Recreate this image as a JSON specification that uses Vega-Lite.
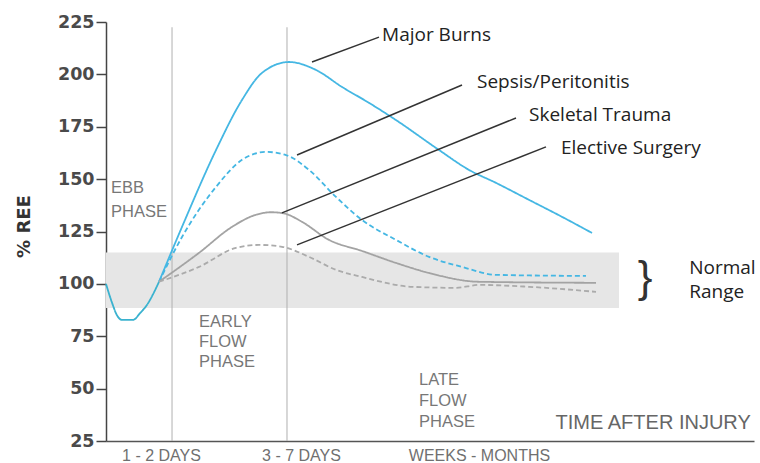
{
  "$schema": "https://vega.github.io/schema/vega-lite/v6.json",
  "width": 648,
  "height": 419,
  "autosize": "none",
  "padding": {"left": 106, "top": 22, "right": 6, "bottom": 22},
  "background": "white",
  "config": {"view": {"stroke": null}},
  "encoding": {
    "x": {
      "field": "t", "type": "quantitative", "scale": {"domain": [0, 100]},
      "axis": {
        "title": null, "grid": false, "ticks": false,
        "values": [8.49, 30.09, 57.56],
        "labelExpr": "datum.value < 15 ? '1 - 2 DAYS' : datum.value < 40 ? '3 - 7 DAYS' : 'WEEKS - MONTHS'",
        "labelFont": "Liberation Sans", "labelFontSize": 16, "labelColor": "#707070",
        "labelPadding": 6, "domainColor": "#555", "domainWidth": 1.5
      }
    },
    "y": {
      "field": "v", "type": "quantitative", "scale": {"domain": [25, 225]},
      "axis": {
        "values": [25, 50, 75, 100, 125, 150, 175, 200, 225],
        "grid": false, "labelFont": "DejaVu Sans", "labelFontSize": 17.5, "labelFontWeight": "bold", "labelColor": "#4a4a4a",
        "tickSize": 10, "tickColor": "#444", "tickWidth": 1.5, "domainColor": "#444", "domainWidth": 1.5,
        "labelPadding": 2,
        "title": "% REE", "titleFont": "DejaVu Sans", "titleFontSize": 18, "titleFontWeight": "bold",
        "titleColor": "#333", "titleX": -82, "titleY": 204, "titleAngle": 270,
        "titleAlign": "center", "titleBaseline": "middle"
      }
    }
  },
  "layer": [
    {
      "data": {"values": [{"t": 0, "t2": 79.17, "v": 88.5, "v2": 115}]},
      "mark": {"type": "rect", "color": "#e6e6e6"},
      "encoding": {"x2": {"field": "t2"}, "y2": {"field": "v2"}}
    },
    {
      "data": {"values": [{"t": 10.19, "v": 25, "v2": 222.5}, {"t": 27.93, "v": 25, "v2": 222.5}]},
      "mark": {"type": "rule", "color": "#b0b0b0", "strokeWidth": 1},
      "encoding": {"y2": {"field": "v2"}}
    },
    {
      "data": {"values": [
        {"series": "Start", "t": 0, "v": 100},
        {"series": "Start", "t": 0.93, "v": 91},
        {"series": "Start", "t": 1.7, "v": 85},
        {"series": "Start", "t": 2.47, "v": 82.8},
        {"series": "Start", "t": 4.17, "v": 82.8},
        {"series": "Start", "t": 5.25, "v": 86},
        {"series": "Start", "t": 6.33, "v": 90},
        {"series": "Start", "t": 7.25, "v": 95},
        {"series": "Start", "t": 8.18, "v": 101},
        {"series": "Major Burns", "t": 8.18, "v": 101},
        {"series": "Major Burns", "t": 11.73, "v": 127.2},
        {"series": "Major Burns", "t": 16.98, "v": 163.9},
        {"series": "Major Burns", "t": 20.99, "v": 187.8},
        {"series": "Major Burns", "t": 24.07, "v": 200.7},
        {"series": "Major Burns", "t": 28.24, "v": 205.9},
        {"series": "Major Burns", "t": 32.41, "v": 202.1},
        {"series": "Major Burns", "t": 36.42, "v": 194.0},
        {"series": "Major Burns", "t": 40.59, "v": 186.4},
        {"series": "Major Burns", "t": 44.75, "v": 178.2},
        {"series": "Major Burns", "t": 51.39, "v": 163.9},
        {"series": "Major Burns", "t": 56.02, "v": 154.4},
        {"series": "Major Burns", "t": 60.19, "v": 148.2},
        {"series": "Major Burns", "t": 65.28, "v": 140.1},
        {"series": "Major Burns", "t": 70.37, "v": 132.0},
        {"series": "Major Burns", "t": 75.0, "v": 124.3},
        {"series": "Sepsis/Peritonitis", "t": 8.18, "v": 101},
        {"series": "Sepsis/Peritonitis", "t": 11.73, "v": 122.4},
        {"series": "Sepsis/Peritonitis", "t": 16.98, "v": 146.3},
        {"series": "Sepsis/Peritonitis", "t": 20.99, "v": 159.2},
        {"series": "Sepsis/Peritonitis", "t": 24.69, "v": 163.0},
        {"series": "Sepsis/Peritonitis", "t": 27.78, "v": 161.5},
        {"series": "Sepsis/Peritonitis", "t": 31.33, "v": 154.4},
        {"series": "Sepsis/Peritonitis", "t": 35.49, "v": 141.5},
        {"series": "Sepsis/Peritonitis", "t": 39.51, "v": 130.5},
        {"series": "Sepsis/Peritonitis", "t": 44.75, "v": 121.0},
        {"series": "Sepsis/Peritonitis", "t": 49.85, "v": 112.9},
        {"series": "Sepsis/Peritonitis", "t": 54.94, "v": 108.1},
        {"series": "Sepsis/Peritonitis", "t": 60.19, "v": 104.3},
        {"series": "Sepsis/Peritonitis", "t": 74.07, "v": 103.8},
        {"series": "Skeletal Trauma", "t": 8.18, "v": 101},
        {"series": "Skeletal Trauma", "t": 14.35, "v": 114.8},
        {"series": "Skeletal Trauma", "t": 19.44, "v": 127.2},
        {"series": "Skeletal Trauma", "t": 23.15, "v": 133.0},
        {"series": "Skeletal Trauma", "t": 25.5, "v": 134.2},
        {"series": "Skeletal Trauma", "t": 27.5, "v": 133.6},
        {"series": "Skeletal Trauma", "t": 30.25, "v": 129.6},
        {"series": "Skeletal Trauma", "t": 34.41, "v": 121.0},
        {"series": "Skeletal Trauma", "t": 39.51, "v": 115.7},
        {"series": "Skeletal Trauma", "t": 44.75, "v": 110.0},
        {"series": "Skeletal Trauma", "t": 49.85, "v": 105.2},
        {"series": "Skeletal Trauma", "t": 57.56, "v": 101},
        {"series": "Skeletal Trauma", "t": 75.62, "v": 100.5},
        {"series": "Elective Surgery", "t": 8.18, "v": 101},
        {"series": "Elective Surgery", "t": 14.35, "v": 108.1},
        {"series": "Elective Surgery", "t": 20.06, "v": 117.2},
        {"series": "Elective Surgery", "t": 23.61, "v": 118.6},
        {"series": "Elective Surgery", "t": 27.16, "v": 117.7},
        {"series": "Elective Surgery", "t": 31.33, "v": 112.9},
        {"series": "Elective Surgery", "t": 35.49, "v": 106.7},
        {"series": "Elective Surgery", "t": 39.51, "v": 103.3},
        {"series": "Elective Surgery", "t": 47.22, "v": 98.6},
        {"series": "Elective Surgery", "t": 54.01, "v": 98.1},
        {"series": "Elective Surgery", "t": 57.56, "v": 99.5},
        {"series": "Elective Surgery", "t": 65.28, "v": 98.6},
        {"series": "Elective Surgery", "t": 75.62, "v": 96.2}
      ]},
      "mark": {"type": "line", "interpolate": "monotone", "strokeWidth": 1.8},
      "encoding": {
        "color": {
          "field": "series", "type": "nominal", "legend": null,
          "scale": {"domain": ["Start", "Major Burns", "Sepsis/Peritonitis", "Skeletal Trauma", "Elective Surgery"],
                    "range": ["#3ab2cf", "#45b7e3", "#45b7e3", "#a3a3a3", "#ababab"]}
        },
        "strokeDash": {
          "field": "series", "type": "nominal", "legend": null,
          "scale": {"domain": ["Start", "Major Burns", "Sepsis/Peritonitis", "Skeletal Trauma", "Elective Surgery"],
                    "range": [[1, 0], [1, 0], [5, 3], [1, 0], [5, 3]]}
        },
        "order": {"field": "t", "type": "quantitative"}
      }
    },
    {
      "data": {"values": [
        {"t": 31.79, "v": 205.9, "t2": 42.13, "v2": 217.8},
        {"t": 29.48, "v": 161.5, "t2": 54.94, "v2": 194.9},
        {"t": 27.16, "v": 133.9, "t2": 63.27, "v2": 179.2},
        {"t": 29.48, "v": 118.6, "t2": 67.9, "v2": 165.4}
      ]},
      "mark": {"type": "rule", "color": "#333", "strokeWidth": 1.5},
      "encoding": {"x2": {"field": "t2"}, "y2": {"field": "v2"}}
    },
    {
      "data": {"values": [
        {"label": "Major Burns", "t": 42.6, "v": 218.8},
        {"label": "Sepsis/Peritonitis", "t": 57.25, "v": 196.4},
        {"label": "Skeletal Trauma", "t": 65.28, "v": 180.6},
        {"label": "Elective Surgery", "t": 70.2, "v": 164.9},
        {"label": "Normal", "t": 90.0, "v": 107.6},
        {"label": "Range", "t": 90.0, "v": 96.2}
      ]},
      "mark": {"type": "text", "align": "left", "baseline": "middle", "font": "Open Sans", "fontSize": 19, "color": "#222"},
      "encoding": {"text": {"field": "label"}}
    },
    {
      "data": {"values": [{"label": "}", "t": 83.2, "v": 102.4}]},
      "mark": {"type": "text", "align": "center", "baseline": "middle", "font": "Liberation Sans", "fontSize": 44, "color": "#333"},
      "encoding": {"text": {"field": "label"}}
    },
    {
      "data": {"values": [
        {"label": "EBB", "t": 0.77, "v": 145.8},
        {"label": "PHASE", "t": 0.77, "v": 134.3},
        {"label": "EARLY", "t": 14.35, "v": 81.9},
        {"label": "FLOW", "t": 14.35, "v": 72.3},
        {"label": "PHASE", "t": 14.35, "v": 62.8},
        {"label": "LATE", "t": 48.3, "v": 54.2},
        {"label": "FLOW", "t": 48.3, "v": 44.2},
        {"label": "PHASE", "t": 48.3, "v": 34.2}
      ]},
      "mark": {"type": "text", "align": "left", "baseline": "middle", "font": "Liberation Sans", "fontSize": 16.5, "color": "#777"},
      "encoding": {"text": {"field": "label"}}
    },
    {
      "data": {"values": [{"label": "TIME AFTER INJURY", "t": 99.5, "v": 33.7}]},
      "mark": {"type": "text", "align": "right", "baseline": "middle", "font": "Liberation Sans", "fontSize": 20, "color": "#666"},
      "encoding": {"text": {"field": "label"}}
    }
  ]
}
